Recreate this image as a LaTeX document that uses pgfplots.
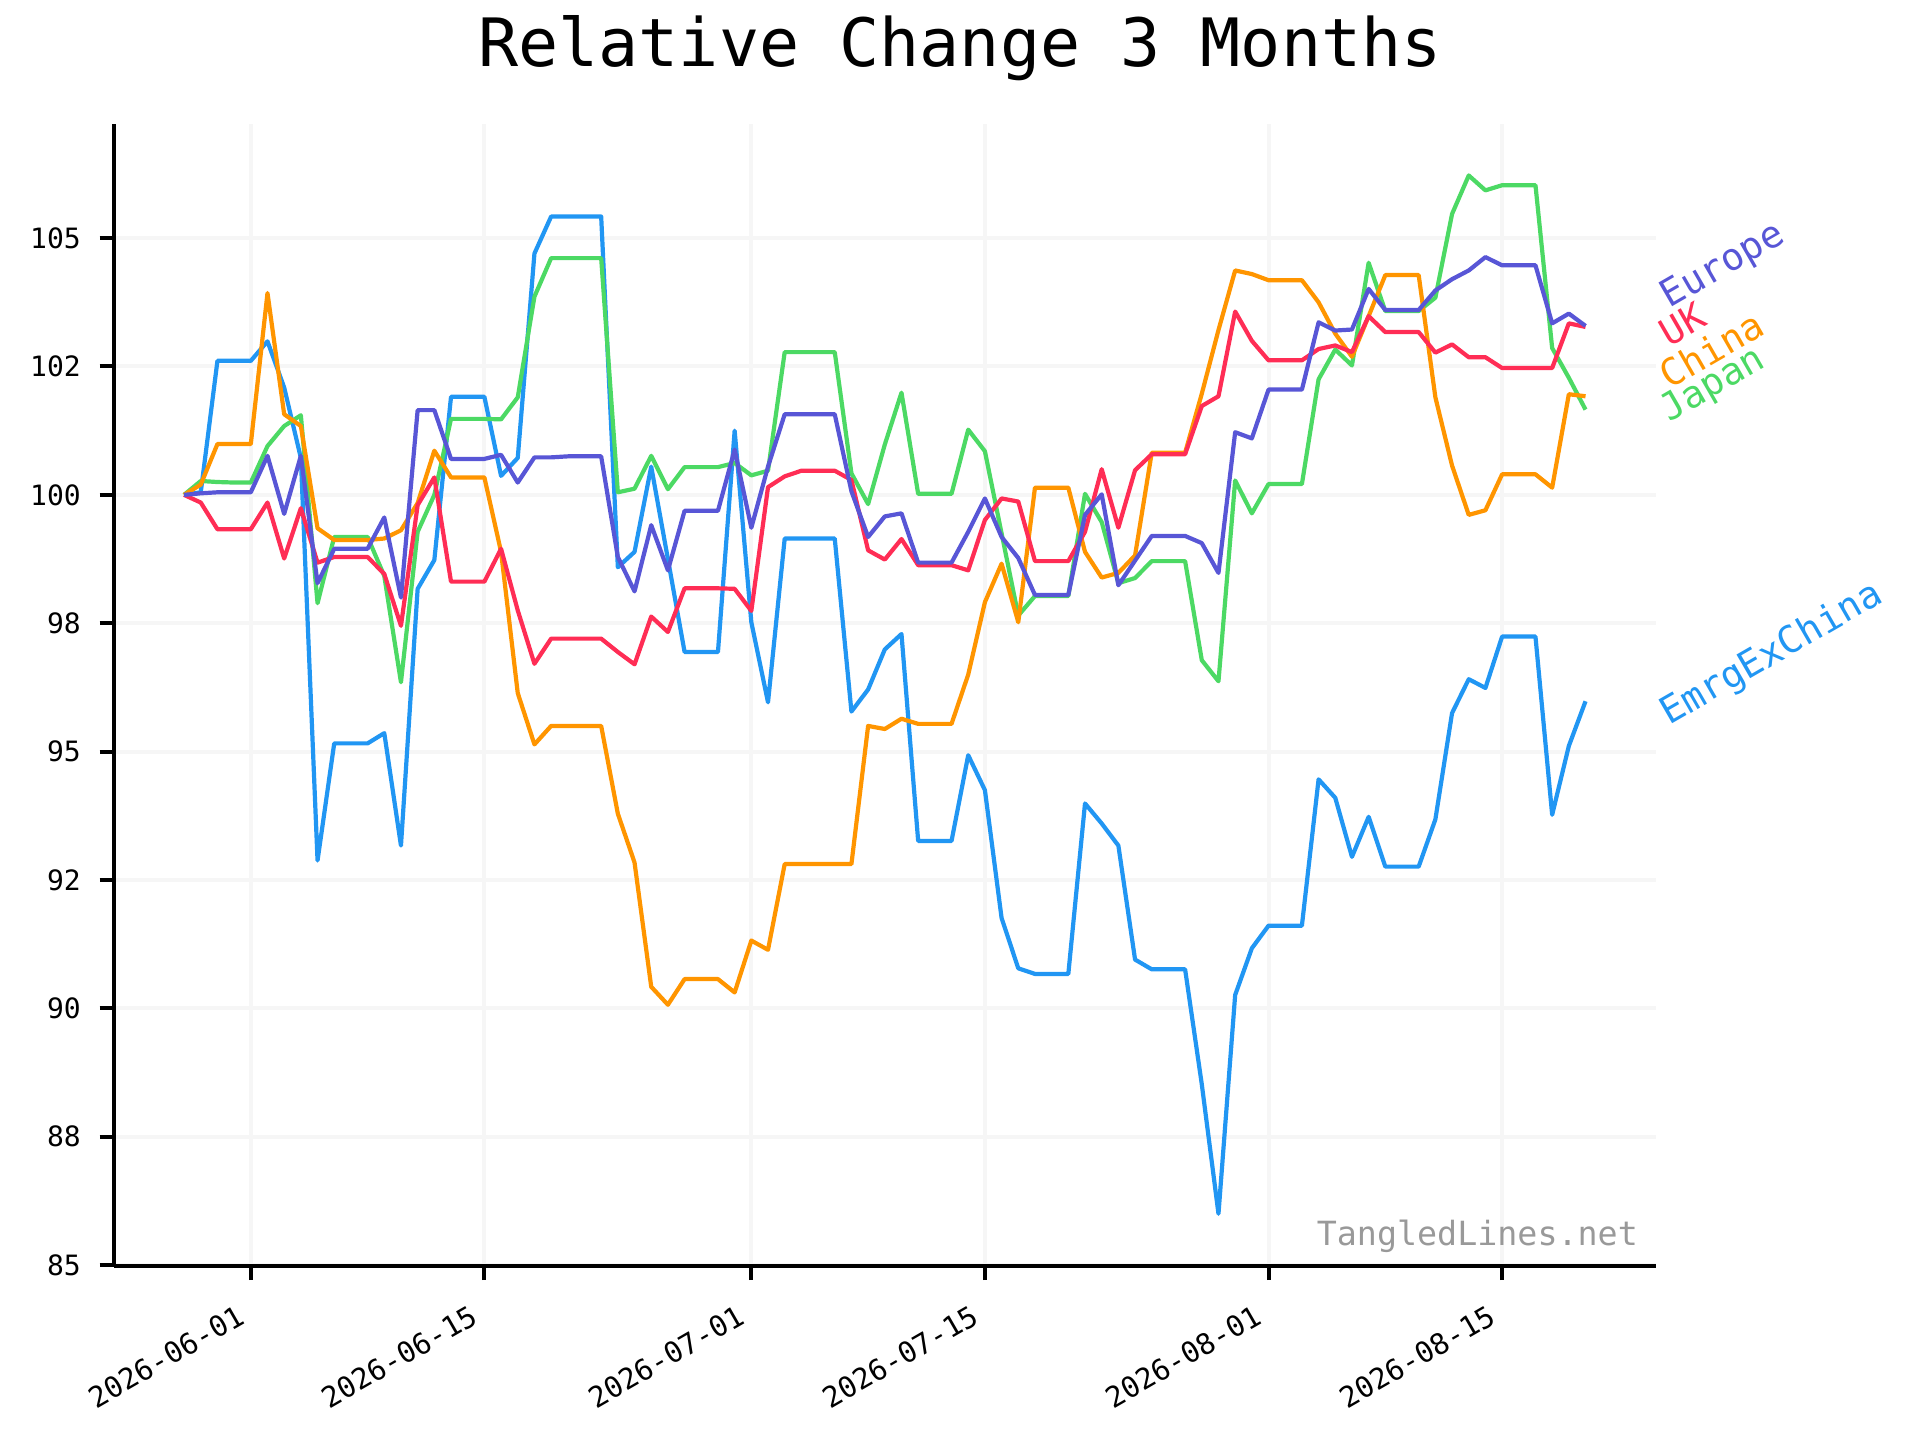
\documentclass[border=0pt]{standalone}
\usepackage{pgfplots}
\pgfplotsset{compat=1.18}
\usepackage{pgfplotstable}
\usepackage{fontspec}
\setmainfont{DejaVu Sans Mono}

\definecolor{ceu}{HTML}{5856D6}
\definecolor{cuk}{HTML}{FF2D55}
\definecolor{ccn}{HTML}{FF9500}
\definecolor{cjp}{HTML}{4CD964}
\definecolor{cem}{HTML}{2196F3}
\definecolor{cgrid}{HTML}{F6F6F6}
\definecolor{cwm}{HTML}{999999}

\pgfplotstableread{
day eu uk cn jp em
0 100 100 100 100 100
1 100.03 99.85 100.2 100.27 100.05
2 100.05 99.33 100.99 100.25 102.61
3 100.05 99.33 100.99 100.24 102.61
4 100.05 99.33 100.99 100.24 102.61
5 100.76 99.85 103.93 100.95 102.99
6 99.63 98.76 101.57 101.34 102.09
7 100.76 99.74 101.34 101.55 100.72
8 98.28 98.68 99.35 97.89 92.88
9 98.95 98.79 99.12 99.18 95.16
10 98.95 98.79 99.12 99.18 95.16
11 98.95 98.79 99.12 99.18 95.16
12 99.56 98.46 99.15 98.42 95.36
13 98.0 97.45 99.31 96.35 93.17
14 101.65 99.8 99.84 99.28 98.17
15 101.65 100.34 100.86 100.0 98.73
16 100.70 98.31 100.34 101.48 101.91
17 100.70 98.31 100.34 101.48 101.91
18 100.70 98.31 100.34 101.48 101.91
19 100.78 98.95 98.89 101.47 100.37
20 100.24 97.75 96.14 101.9 100.72
21 100.73 96.71 95.14 103.86 104.7
22 100.73 97.2 95.5 104.61 105.42
23 100.75 97.2 95.5 104.61 105.42
24 100.75 97.2 95.5 104.61 105.42
25 100.75 97.2 95.5 104.61 105.42
26 98.79 96.94 93.79 100.05 98.59
27 98.12 96.7 92.84 100.12 98.89
28 99.41 97.63 90.42 100.76 100.55
29 98.53 97.33 90.07 100.11 98.75
30 99.69 98.18 90.57 100.54 96.94
31 99.69 98.18 90.57 100.54 96.94
32 99.69 98.18 90.57 100.54 96.94
33 100.88 98.17 90.31 100.62 101.25
34 99.36 97.74 91.32 100.38 97.52
35 100.55 100.15 91.14 100.47 95.96
36 101.57 100.36 92.81 102.78 99.15
37 101.57 100.47 92.81 102.78 99.15
38 101.57 100.47 92.81 102.78 99.15
39 101.57 100.47 92.81 102.78 99.15
40 100.07 100.29 92.81 100.42 95.78
41 99.18 98.92 95.5 99.82 96.21
42 99.58 98.74 95.44 100.98 96.99
43 99.64 99.14 95.64 101.99 97.29
44 98.68 98.63 95.54 100.02 93.26
45 98.68 98.63 95.54 100.02 93.26
46 98.68 98.63 95.54 100.02 93.26
47 99.28 98.53 96.5 101.27 94.93
48 99.93 99.51 97.91 100.85 94.25
49 99.18 99.93 98.66 99.25 91.76
50 98.77 99.87 97.52 97.65 90.78
51 98.05 98.71 100.14 98.03 90.67
52 98.05 98.71 100.14 98.03 90.67
53 98.05 98.71 100.14 98.03 90.67
54 99.61 99.28 98.89 100.02 93.99
55 100.01 100.5 98.39 99.47 93.6
56 98.24 99.36 98.48 98.28 93.17
57 98.72 100.48 98.82 98.38 90.95
58 99.2 100.79 100.82 98.71 90.76
59 99.2 100.79 100.82 98.71 90.76
60 99.2 100.79 100.82 98.71 90.76
61 99.06 101.73 101.97 96.78 88.52
62 98.48 101.92 103.21 96.37 86.0
63 101.22 103.57 104.37 100.28 90.26
64 101.1 103.0 104.3 99.64 91.17
65 102.05 102.62 104.18 100.21 91.61
66 102.05 102.62 104.18 100.21 91.61
67 102.05 102.62 104.18 100.21 91.61
68 103.36 102.84 103.75 102.25 94.46
69 103.2 102.91 103.14 102.83 94.1
70 103.22 102.78 102.69 102.52 92.95
71 104.01 103.48 103.48 104.52 93.73
72 103.6 103.17 104.28 103.58 92.76
73 103.6 103.17 104.28 103.58 92.76
74 103.6 103.17 104.28 103.58 92.76
75 103.98 102.77 101.9 103.84 93.68
76 104.2 102.93 100.57 105.47 95.75
77 104.37 102.68 99.61 106.22 96.41
78 104.63 102.68 99.7 105.93 96.24
79 104.47 102.47 100.4 106.03 97.24
80 104.47 102.47 100.4 106.03 97.24
81 104.47 102.47 100.4 106.03 97.24
82 103.34 102.47 100.14 102.86 93.77
83 103.53 103.34 101.96 102.28 95.11
84 103.29 103.27 101.92 101.66 95.98
}\datatable

\begin{document}
\begin{tikzpicture}[x=1pt,y=1pt]
\path[use as bounding box] (0,0) rectangle (480,360);
\node[anchor=base, inner sep=0pt, font=\fontsize{16.67}{20}\selectfont] at (240,343.5) {Relative Change 3 Months};
\begin{axis}[
  at={(28.5pt,43.6pt)}, anchor=south west,
  scale only axis, width=385.4pt, height=285.5pt,
  xmin=-4.2, xmax=88.2, ymin=84.99, ymax=107.23,
  axis x line=bottom, axis y line=left,
  axis line style={-, line width=1pt, black},
  xtick={4,18,34,48,65,79},
  xticklabels={2026-06-01,2026-06-15,2026-07-01,2026-07-15,2026-08-01,2026-08-15},
  ytick={85,87.5,90,92.5,95,97.5,100,102.5,105},
  yticklabels={85,88,90,92,95,98,100,102,105},
  grid=major,
  major grid style={draw=cgrid, line width=1pt},
  tick style={black, line width=1pt},
  major tick length=3.6pt,
  tick align=outside,
  ticklabel style={font=\fontsize{7}{8}\selectfont},
  xticklabel style={font=\fontsize{7.2}{8}\selectfont, inner sep=0pt, xshift=-3.75pt, yshift=-5.7pt, rotate=30, anchor=north east},
  yticklabel style={inner sep=0pt, anchor=east, xshift=-4.5pt},
  clip=false,
  every axis plot/.append style={line width=1.05pt, line join=round, no markers},
]
\addplot[cem] table[x=day, y=em] {\datatable};
\addplot[cjp] table[x=day, y=jp] {\datatable};
\addplot[ccn] table[x=day, y=cn] {\datatable};
\addplot[cuk] table[x=day, y=uk] {\datatable};
\addplot[ceu] table[x=day, y=eu] {\datatable};

\node[anchor=base west, rotate=30, inner sep=0pt, text=ceu, font=\fontsize{9.375}{11}\selectfont] at (axis cs:89.0,103.62) {Europe};
\node[anchor=base west, rotate=30, inner sep=0pt, text=cuk, font=\fontsize{9.375}{11}\selectfont] at (axis cs:89.0,102.87) {UK};
\node[anchor=base west, rotate=30, inner sep=0pt, text=ccn, font=\fontsize{9.375}{11}\selectfont] at (axis cs:89.0,102.04) {China};
\node[anchor=base west, rotate=30, inner sep=0pt, text=cjp, font=\fontsize{9.375}{11}\selectfont] at (axis cs:89.0,101.4) {Japan};
\node[anchor=base west, rotate=30, inner sep=0pt, text=cem, font=\fontsize{9.375}{11}\selectfont] at (axis cs:89.0,95.5) {EmrgExChina};

\node[anchor=south east, inner sep=0pt, text=cwm, font=\fontsize{8.33}{10}\selectfont] at (rel axis cs:0.989,0.0103) {TangledLines.net};
\end{axis}
\end{tikzpicture}
\end{document}
